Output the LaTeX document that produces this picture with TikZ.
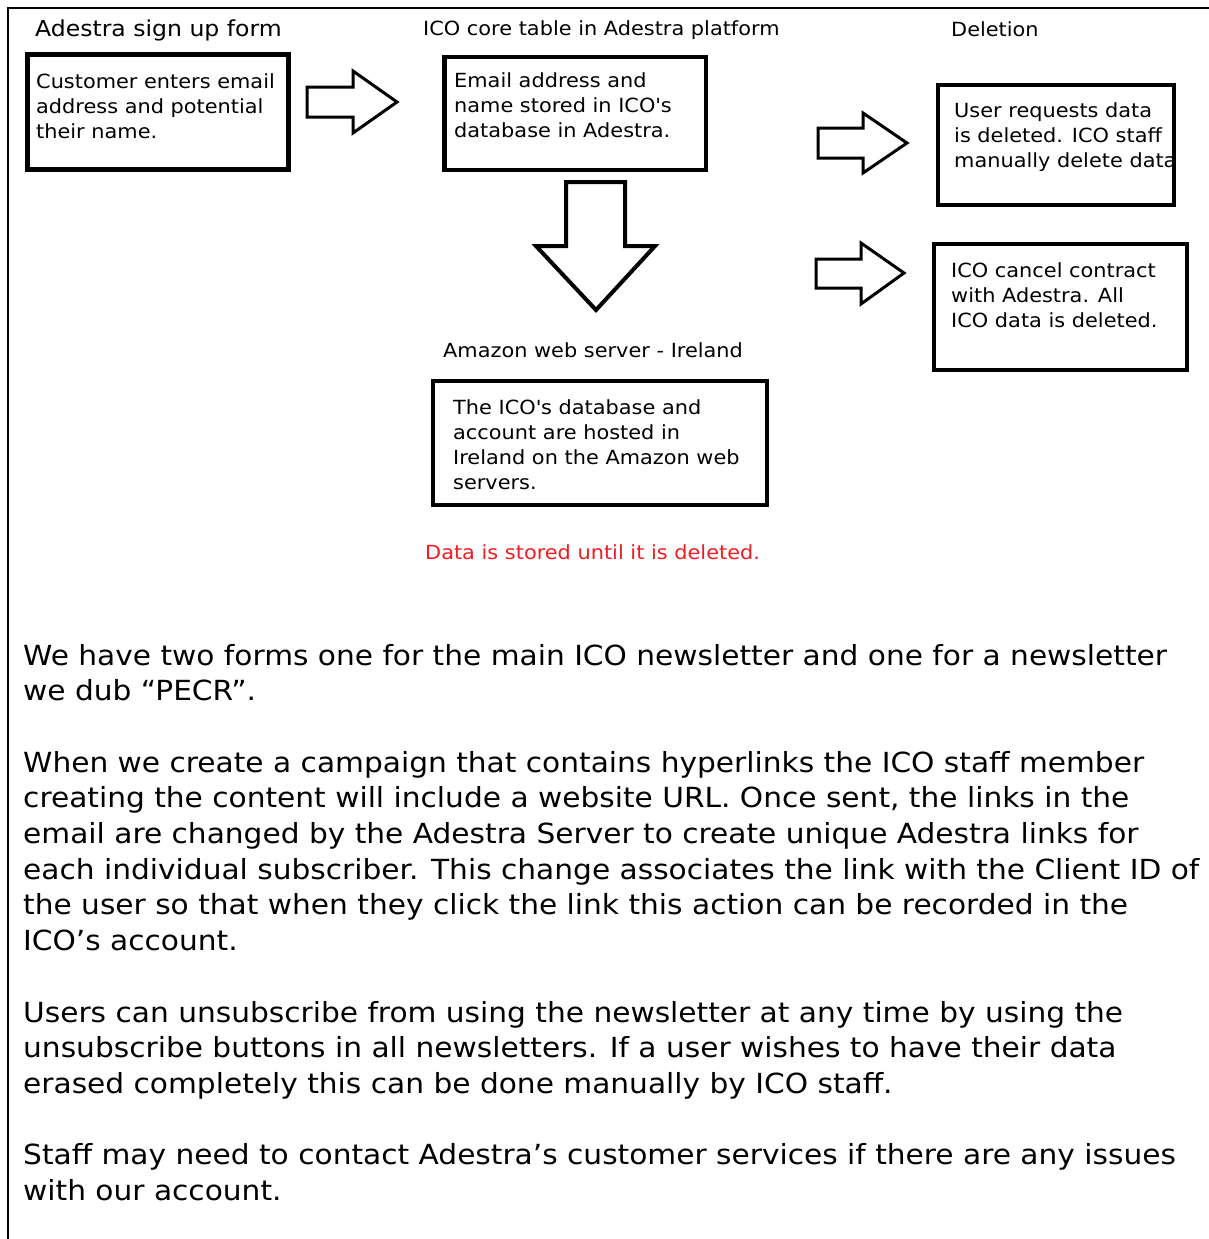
\documentclass[tikz,border=0pt]{standalone}
\usepackage{fontspec}
\setmainfont{DejaVu Sans}[FakeStretch=1.07]
\definecolor{redtxt}{RGB}{235,30,36}
\begin{document}
\begin{tikzpicture}[x=1pt,y=-1pt,
  boxframe/.style={draw=black, line width=4.5pt, fill=none},
  boxtext/.style={anchor=base west, inner sep=0pt, align=left, font=\fontsize{19.5}{25}\selectfont},
  titletext/.style={anchor=base west, inner sep=0pt, font=\fontsize{19.5}{25}\selectfont},
  blockarrow/.style={draw=black, line width=3pt, line join=miter, fill=white},
  paratext/.style={anchor=base west, inner sep=0pt, align=left, font=\fontsize{27.7}{35.7}\selectfont}
]
\useasboundingbox (0,0) rectangle (1209,1239);
% page frame
\draw[line width=2pt] (8,1239) coordinate (fl) -- (8,8) coordinate (fc) -- (1209,8) coordinate (fr);

% titles
\node[titletext, font=\fontsize{22}{26}\selectfont] (t1) at (35,37) {Adestra sign up form};
\node[titletext] (t2) at (423,36) {ICO core table in Adestra platform};
\node[titletext] (t3) at (951,37) {Deletion};
\node[titletext] (t4) at (443,357) {Amazon web server - Ireland};

% boxes (text nodes anchored at baseline of their last line)
\draw[boxframe] (27.5,54.5) rectangle (288.5,169.5);
\node[boxtext] (b1) at (36,138) {Customer enters email\\address and potential\\their name.};

\draw[boxframe] (444.5,57) rectangle (706,170);
\node[boxtext] (b2) at (454,137) {Email address and\\name stored in ICO\textquotesingle s\\database in Adestra.};

\draw[boxframe] (938,85) rectangle (1174,205);
\node[boxtext] (b3) at (954,167) {User requests data\\is deleted. ICO staff\\manually delete data};

\draw[boxframe] (934,244) rectangle (1187,370);
\node[boxtext] (b4) at (951,327) {ICO cancel contract\\with Adestra. All\\ICO data is deleted.};

\draw[boxframe] (433,381) rectangle (767,505);
\node[boxtext] (b5) at (453,489) {The ICO\textquotesingle s database and\\account are hosted in\\Ireland on the Amazon web\\servers.};

\node[titletext, text=redtxt] (red) at (425,559) {Data is stored until it is deleted.};

% block arrows
\draw[blockarrow] (307,87) -- (353,87) -- (353,71) -- (397,102) -- (353,133) -- (353,117) -- (307,117) -- cycle;
\draw[blockarrow] (818,128) -- (863,128) -- (863,113) -- (907,143) -- (863,173) -- (863,158) -- (818,158) -- cycle;
\draw[blockarrow] (816,259) -- (861,259) -- (861,243) -- (904,273) -- (861,304) -- (861,288) -- (816,288) -- cycle;
\draw[blockarrow, line width=4pt] (566,182) -- (625,182) -- (625,246) -- (655,246) -- (596,310) -- (536,246) -- (566,246) -- cycle;

% paragraphs
\node[paratext] (p) at (23,1200.5) {We have two forms one for the main ICO newsletter and one for a newsletter\\
we dub “PECR”.\\[35.7pt]
When we create a campaign that contains hyperlinks the ICO staff member\\
creating the content will include a website URL. Once sent, the links in the\\
email are changed by the Adestra Server to create unique Adestra links for\\
each individual subscriber. This change associates the link with the Client ID of\\
the user so that when they click the link this action can be recorded in the\\
ICO’s account.\\[35.7pt]
Users can unsubscribe from using the newsletter at any time by using the\\
unsubscribe buttons in all newsletters. If a user wishes to have their data\\
erased completely this can be done manually by ICO staff.\\[35.7pt]
Staff may need to contact Adestra’s customer services if there are any issues\\
with our account.};
\end{tikzpicture}
\end{document}
